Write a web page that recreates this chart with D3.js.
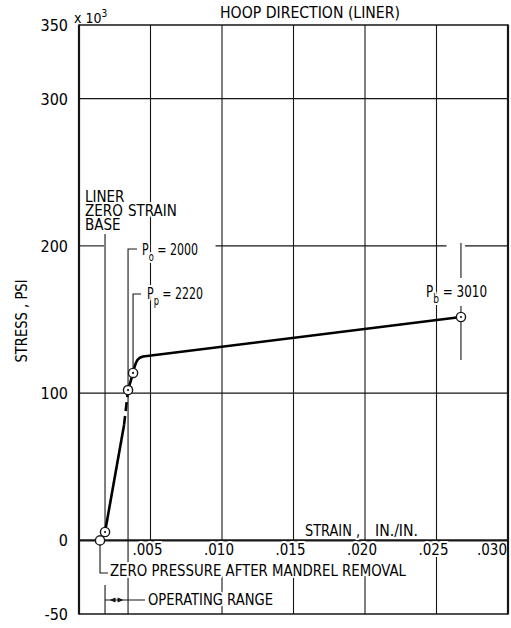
<!DOCTYPE html>
<html>
<head>
<meta charset="utf-8">
<script src="https://cdn.jsdelivr.net/npm/d3@7"></script>
<style>
  html, body { margin: 0; padding: 0; background: #fff; }
  svg text {
    font-family: "Liberation Sans Narrow", "DejaVu Sans Condensed", "Arial Narrow", "Liberation Sans", sans-serif;
    fill: #000;
  }
  .halo { paint-order: stroke; stroke: #fff; stroke-width: 4px; stroke-linejoin: round; }
</style>
</head>
<body>
<svg id="chart" width="511" height="628"></svg>
<script>
// Hoop-direction stress-strain record of the liner (stress in ksi, strain in in./in.)
const xTicks = [0.005, 0.010, 0.015, 0.020, 0.025, 0.030];
const xTickLabels = [".005", ".010", ".015", ".020", ".025", ".030"];
const yTicks = [-50, 0, 100, 200, 300, 350];
const yTickLabels = ["-50", "0", "100", "200", "300", "350"];
const yGrid = [100, 200, 300];

// loading line: zero-strain base up to operating point (dashed near the top)
const loadStrain = [0.00182, 0.00315];
const loadStress = [5.7, 78.4];
const dashStrain = [0.00315, 0.00343];
const dashStress = [78.4, 102.1];
// yielding branch from operating point through proof point and the knee to burst
const yieldStrain = [0.00343, 0.00378, 0.00388, 0.00398, 0.00410, 0.00425, 0.00448, 0.02671];
const yieldStress = [102.1, 113.7, 117.6, 120.6, 122.7, 124.0, 124.9, 151.7];

// marked points
const zeroPressure = { strain: 0.00147, stress: 0 };
const zeroBase = { strain: 0.00182, stress: 5.7 };
const operating = { strain: 0.00343, stress: 102.1, label: "o", value: "2000" };
const proof = { strain: 0.00378, stress: 113.7, label: "p", value: "2220" };
const burst = { strain: 0.02671, stress: 151.7, label: "b", value: "3010" };

const svg = d3.select("#chart");
const x = d3.scaleLinear().domain([0, 0.030]).range([79, 508]);
const y = d3.scaleLinear().domain([-50, 350]).range([614, 25]);

const ink = "#161616";
const g = svg.append("g");

// ---- grid ----
const gridG = g.append("g").attr("stroke", ink).attr("stroke-width", 1.1).attr("fill", "none");
// horizontal grid lines (200 line broken around the annotations)
const hSegments = {
  100: [[0, 0.030]],
  200: [[0, 0.00175], [0.00955, 0.0257], [0.0270, 0.030]],
  300: [[0, 0.030]]
};
yGrid.forEach(v => {
  hSegments[v].forEach(([a, b]) => {
    gridG.append("line").attr("x1", x(a)).attr("x2", x(b)).attr("y1", y(v)).attr("y2", y(v));
  });
});
// vertical grid lines above the zero-stress axis
xTicks.slice(0, -1).forEach(t => {
  gridG.append("line").attr("x1", x(t)).attr("x2", x(t)).attr("y1", y(350)).attr("y2", y(0));
});
// vertical grid lines below the axis, under the notes
const belowStart = { 0.010: -24, 0.015: -24, 0.020: -24, 0.025: -3 };
Object.keys(belowStart).forEach(k => {
  const t = +k;
  gridG.append("line").attr("x1", x(t)).attr("x2", x(t)).attr("y1", y(belowStart[k])).attr("y2", y(-50));
});

// ---- frame and zero-stress axis ----
const frame = g.append("g").attr("stroke", ink).attr("fill", "none");
frame.append("line").attr("x1", x(0)).attr("x2", x(0)).attr("y1", y(350) - 0.5).attr("y2", y(-50) + 0.5).attr("stroke-width", 2.2);
frame.append("line").attr("x1", x(0.030)).attr("x2", x(0.030)).attr("y1", y(350) - 0.5).attr("y2", y(-50) + 0.5).attr("stroke-width", 2.2);
frame.append("line").attr("x1", x(0)).attr("x2", x(0.030)).attr("y1", y(350)).attr("y2", y(350)).attr("stroke-width", 1.6);
frame.append("line").attr("x1", x(0)).attr("x2", x(0.030)).attr("y1", y(-50)).attr("y2", y(-50)).attr("stroke-width", 1.6);
frame.append("line").attr("x1", x(0)).attr("x2", x(0.030)).attr("y1", y(0)).attr("y2", y(0)).attr("stroke-width", 2.2);

// ---- leader lines ----
const lead = g.append("g").attr("stroke", ink).attr("stroke-width", 1.1).attr("fill", "none");
const r = 4.6;
// zero strain base
lead.append("line").attr("x1", x(zeroBase.strain)).attr("x2", x(zeroBase.strain))
  .attr("y1", 234).attr("y2", y(zeroBase.stress) - r);
// operating point leader, running down to bound the operating range
lead.append("path").attr("d",
  `M${x(operating.strain) + 9},249 H${x(operating.strain)} V${y(-50)}`);
// proof point leader
lead.append("path").attr("d",
  `M${x(proof.strain) + 8},294 H${x(proof.strain)} V${y(proof.stress) - r}`);
// burst point leader
lead.append("line").attr("x1", x(burst.strain)).attr("x2", x(burst.strain)).attr("y1", 243).attr("y2", 278);
lead.append("line").attr("x1", x(burst.strain)).attr("x2", x(burst.strain)).attr("y1", 306).attr("y2", y(burst.stress) - r);
lead.append("line").attr("x1", x(burst.strain)).attr("x2", x(burst.strain)).attr("y1", y(burst.stress) + r).attr("y2", 360);
// zero pressure leader
lead.append("path").attr("d",
  `M${x(zeroPressure.strain)},${y(zeroPressure.stress) + r} V573 H${x(zeroPressure.strain) + 8}`);
// operating range bracket
const orY = 600;
lead.append("line").attr("x1", x(zeroBase.strain)).attr("x2", x(zeroBase.strain)).attr("y1", 585).attr("y2", y(-50));
lead.append("line").attr("x1", x(zeroBase.strain)).attr("x2", 145).attr("y1", orY).attr("y2", orY);
const xa = x(zeroBase.strain), xb = x(operating.strain), xm = (xa + xb) / 2;
g.append("path").attr("fill", ink)
  .attr("d", `M${xm - 7},${orY} l6,-2.4 v4.8 Z M${xm + 7},${orY} l-6,-2.4 v4.8 Z`);

// ---- curve ----
const line = d3.line().x(d => x(d[0])).y(d => y(d[1]));
const curve = g.append("g").attr("fill", "none").attr("stroke", "#000").attr("stroke-width", 2.6)
  .attr("stroke-linecap", "butt").attr("stroke-linejoin", "round");
curve.append("path").attr("d", line(d3.zip(loadStrain, loadStress)));
curve.append("path").attr("d", line(d3.zip(dashStrain, dashStress))).attr("stroke-dasharray", "9,5");
curve.append("path").attr("d", line(d3.zip(yieldStrain, yieldStress)));

// ---- point markers ----
const markers = g.append("g");
[zeroPressure, zeroBase, operating, proof, burst].forEach((p, i) => {
  markers.append("circle").attr("cx", x(p.strain)).attr("cy", y(p.stress)).attr("r", r)
    .attr("fill", "#fff").attr("stroke", ink).attr("stroke-width", 1.4);
  if (i > 0) markers.append("circle").attr("cx", x(p.strain)).attr("cy", y(p.stress)).attr("r", 1.1).attr("fill", ink);
});

// ---- text ----
const txt = g.append("g");
function label(s, px, py, size, opts = {}) {
  const t = txt.append("text").attr("x", px).attr("y", py).attr("font-size", size)
    .attr("text-anchor", opts.anchor || "start").text(s);
  if (opts.len) t.attr("textLength", opts.len).attr("lengthAdjust", "spacingAndGlyphs");
  if (opts.halo) t.attr("class", "halo");
  return t;
}

label("HOOP DIRECTION (LINER)", 220, 18, 15, { len: 180 });

// stress ticks
yTicks.forEach((v, i) => {
  label(yTickLabels[i], 68, y(v) + 6, 16, { anchor: "end" });
});
// multiplier with raised exponent, kept as one text element
const mult = txt.append("text").attr("x", 74).attr("y", 23).attr("font-size", 14);
mult.append("tspan").text("x 10");
mult.append("tspan").attr("dy", -6).attr("font-size", 10).text("3");

// strain ticks
xTicks.forEach((v, i) => {
  const last = i === xTicks.length - 1;
  label(xTickLabels[i], last ? x(v) - 1 : x(v) - 3, 555, 15, { anchor: last ? "end" : "middle", halo: !last });
});

label("STRAIN ,", 305, 536, 15, { len: 55, halo: true });
label("IN./IN.", 375, 536, 15, { len: 43, halo: true });

label("ZERO PRESSURE AFTER MANDREL REMOVAL", 110, 576, 15, { len: 296, halo: true });
label("OPERATING RANGE", 148, 605, 15, { len: 125, halo: true });

// stacked note for the zero strain base, one text element
const baseNote = txt.append("text").attr("font-size", 15).attr("class", "halo");
[["LINER", 85, 202], ["ZERO", 85, 216], ["STRAIN", 128, 216], ["BASE", 85, 230]].forEach(([s, px, py]) => {
  baseNote.append("tspan").attr("x", px).attr("y", py).text(s);
});

function pLabel(p, px, py, len) {
  const t = txt.append("text").attr("x", px).attr("y", py).attr("font-size", 16)
    .attr("class", "halo").attr("textLength", len).attr("lengthAdjust", "spacingAndGlyphs");
  t.append("tspan").text("P");
  t.append("tspan").attr("dy", 6).attr("font-size", 12).text(p.label);
  t.append("tspan").attr("dy", -6).text(" = " + p.value);
}
pLabel(operating, 142, 255, 56);
pLabel(proof, 147, 299, 56);
pLabel(burst, 426, 297, 61);

label("STRESS , PSI", 0, 0, 16, { anchor: "middle", len: 83 })
  .attr("transform", "translate(27,321) rotate(-90)");
</script>
</body>
</html>
